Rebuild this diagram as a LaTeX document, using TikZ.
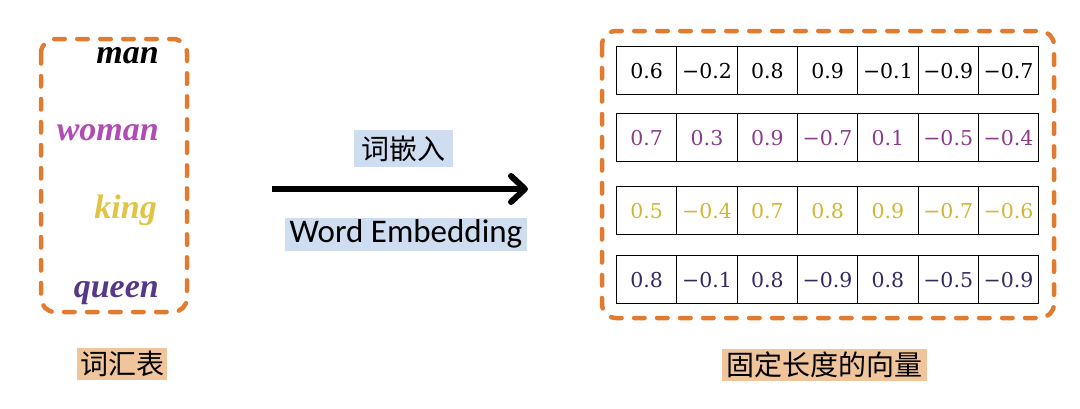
\documentclass[tikz,border=0pt]{standalone}
\usepackage{fontspec}
\setmainfont{Liberation Serif}
\newfontfamily\cjk{Noto Sans CJK SC}
\newfontfamily\calib{Carlito}
\newfontfamily\numfont{DejaVu Serif}
\usetikzlibrary{arrows.meta}
\definecolor{dorange}{HTML}{E07B30}
\definecolor{wmagenta}{HTML}{B04CB4}
\definecolor{wyellow}{HTML}{E2C445}
\definecolor{wpurple}{HTML}{55388A}
\definecolor{nmagenta}{HTML}{8A3C8C}
\definecolor{nyellow}{HTML}{D2B633}
\definecolor{npurple}{HTML}{35285E}
\definecolor{lblue}{HTML}{CFDDF1}
\definecolor{peach}{HTML}{F1C59B}
\tikzset{
  dashbox/.style={draw=dorange, line width=4.5pt, dash pattern=on 10.5pt off 12.5pt, line cap=round, rounded corners=14pt},
  word/.style={font=\fontsize{34}{38}\selectfont\bfseries\itshape, anchor=base east, inner sep=0pt},
  cell/.style={draw, line width=1.1pt, minimum width=60.3pt, minimum height=48pt, inner sep=0pt, anchor=north west, font=\numfont\fontsize{20.5}{24}\selectfont},
  cjklabel/.style={font=\cjk\fontsize{28}{30}\selectfont, inner sep=1pt, minimum height=32pt},
  arr/.style={line width=6pt, -{Straight Barb[length=14pt,width=26pt,line cap=round,round]}}
}
\begin{document}
\begin{tikzpicture}[x=1pt,y=-1pt]
\useasboundingbox (0,0) rectangle (1080,408);
% left vocabulary box
\draw[dashbox] (41,39) rectangle (187,312);
\node[word, text=black] (man) at (159,63) {man};
\node[word, text=wmagenta] (woman) at (159,140) {woman};
\node[word, text=wyellow] (king) at (157,218) {king};
\node[word, text=wpurple] (queen) at (159,297) {queen};
% arrow and labels
\coordinate (as) at (272,189);
\coordinate (ae) at (528,189);
\draw[arr] (as) -- (ae);
\node[cjklabel, fill=lblue, minimum width=99pt, minimum height=37pt] (cqr) at (403,148.5) {词嵌入};
\node[fill=lblue, inner sep=0pt, minimum width=242pt, minimum height=33pt, font=\calib\fontsize{33}{36}\selectfont] (we) at (406,234) {Word Embedding};
% right box
\draw[dashbox] (602,31) rectangle (1054,318);
\def\cw{60.3}
\foreach \v [count=\i from 0] in {0.6,−0.2,0.8,0.9,−0.1,−0.9,−0.7}
  \node[cell, text=black] (a\i) at ({616+\i*\cw},46) {\v};
\foreach \v [count=\i from 0] in {0.7,0.3,0.9,−0.7,0.1,−0.5,−0.4}
  \node[cell, text=nmagenta] (b\i) at ({616+\i*\cw},113) {\v};
\foreach \v [count=\i from 0] in {0.5,−0.4,0.7,0.8,0.9,−0.7,−0.6}
  \node[cell, text=nyellow] (c\i) at ({616+\i*\cw},186) {\v};
\foreach \v [count=\i from 0] in {0.8,−0.1,0.8,−0.9,0.8,−0.5,−0.9}
  \node[cell, text=npurple] (d\i) at ({616+\i*\cw},255) {\v};
% bottom labels
\node[cjklabel, fill=peach, minimum width=90pt] (vocab) at (122,364) {词汇表};
\node[cjklabel, fill=peach, minimum width=205pt] (vec) at (824.5,365) {固定长度的向量};
\end{tikzpicture}
\end{document}
